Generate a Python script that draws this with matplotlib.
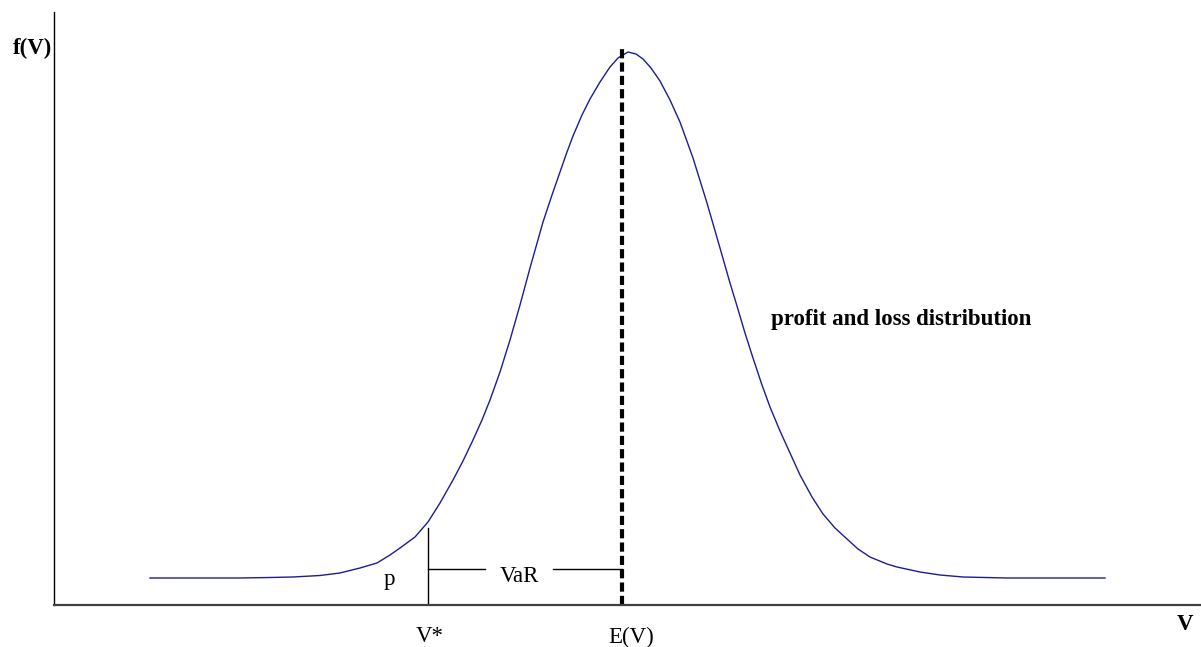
import matplotlib
matplotlib.use("Agg")
import matplotlib.pyplot as plt

# curve (V along the axis, f(V) height above the axis)
vValues = [96, 146, 186, 216, 239, 266, 286, 306, 323, 336, 346, 361, 374, 386,
           399, 409, 419, 428, 436, 446, 456, 466, 476, 489, 498, 506, 513, 519,
           528, 536, 546, 556, 564, 574, 582, 589, 597, 606, 616, 626, 639, 653,
           666, 676, 683, 691, 699, 708, 716, 726, 736, 746, 758, 769, 781, 793,
           804, 816, 833, 843, 866, 886, 909, 931, 953, 996, 1051]
fValues = [27, 27, 27, 27.5, 28, 29.5, 32, 37, 42, 50, 57, 68, 83, 102,
           125, 144, 165, 185, 205, 233, 265, 300, 337, 383, 410, 433, 453, 469,
           490, 506, 523, 538, 547, 553, 551, 546, 537, 524, 505, 483, 447, 402,
           357, 322, 299, 272, 247, 220, 198, 174, 152, 130, 108, 91, 77, 66,
           56, 48, 41, 38, 33, 30, 28, 27.5, 27, 27, 27]

expectedV = 568      # E(V)
criticalV = 374      # V*
peakHeight = 557
pMarkerTop = 77
varLevel = 36

plt.rcParams["font.family"] = ["Liberation Serif", "DejaVu Serif"]
labelSize = 16.5

fig = plt.figure(figsize=(12.01, 6.47), dpi=100)
ax = fig.add_axes([54 / 1201, 42 / 647, 1147 / 1201, 593 / 647])
ax.set_xlim(0, 1147)
ax.set_ylim(0, 593)

ax.plot(vValues, fValues, color="#1c1c9a", linewidth=1.0, solid_joinstyle="round")

# E(V) dashed line
ax.plot([expectedV, expectedV], [0, peakHeight], color="black", linewidth=3,
        linestyle=(0, (2.2, 1.0)))

# V* marker and VaR bracket
ax.plot([criticalV, criticalV], [0, pMarkerTop], color="black", linewidth=1)
ax.plot([criticalV, 431], [varLevel, varLevel], color="black", linewidth=1)
ax.plot([499, expectedV], [varLevel, varLevel], color="black", linewidth=1)
ax.text(465, varLevel - 7, "VaR", ha="center", va="center", fontsize=labelSize)
ax.text(335, 26, "p", ha="center", va="center", fontsize=labelSize)

ax.text(847, 285, "profit and loss distribution", ha="center",
        va="center", fontsize=labelSize, fontweight="bold")

for side in ["top", "right"]:
    ax.spines[side].set_visible(False)
ax.spines["left"].set_color("black")
ax.spines["left"].set_linewidth(1.0)
ax.spines["bottom"].set_color("#404040")
ax.spines["bottom"].set_linewidth(1.6)
ax.set_xticks([])
ax.set_yticks([])

# axis labels placed like the drawing
fig.text(52 / 1201, 1 - 48 / 647, "f(V)", ha="right", va="center",
         fontsize=labelSize, fontweight="bold")
fig.text(1185 / 1201, 1 - 624 / 647, "V", ha="center", va="center",
         fontsize=labelSize, fontweight="bold")
ax.text(criticalV + 2, -32, "V*", ha="center", va="center", fontsize=labelSize,
        clip_on=False)
ax.text(expectedV + 9, -32, "E(V)", ha="center", va="center", fontsize=labelSize,
        clip_on=False)

fig.savefig("out.png", dpi=100)
